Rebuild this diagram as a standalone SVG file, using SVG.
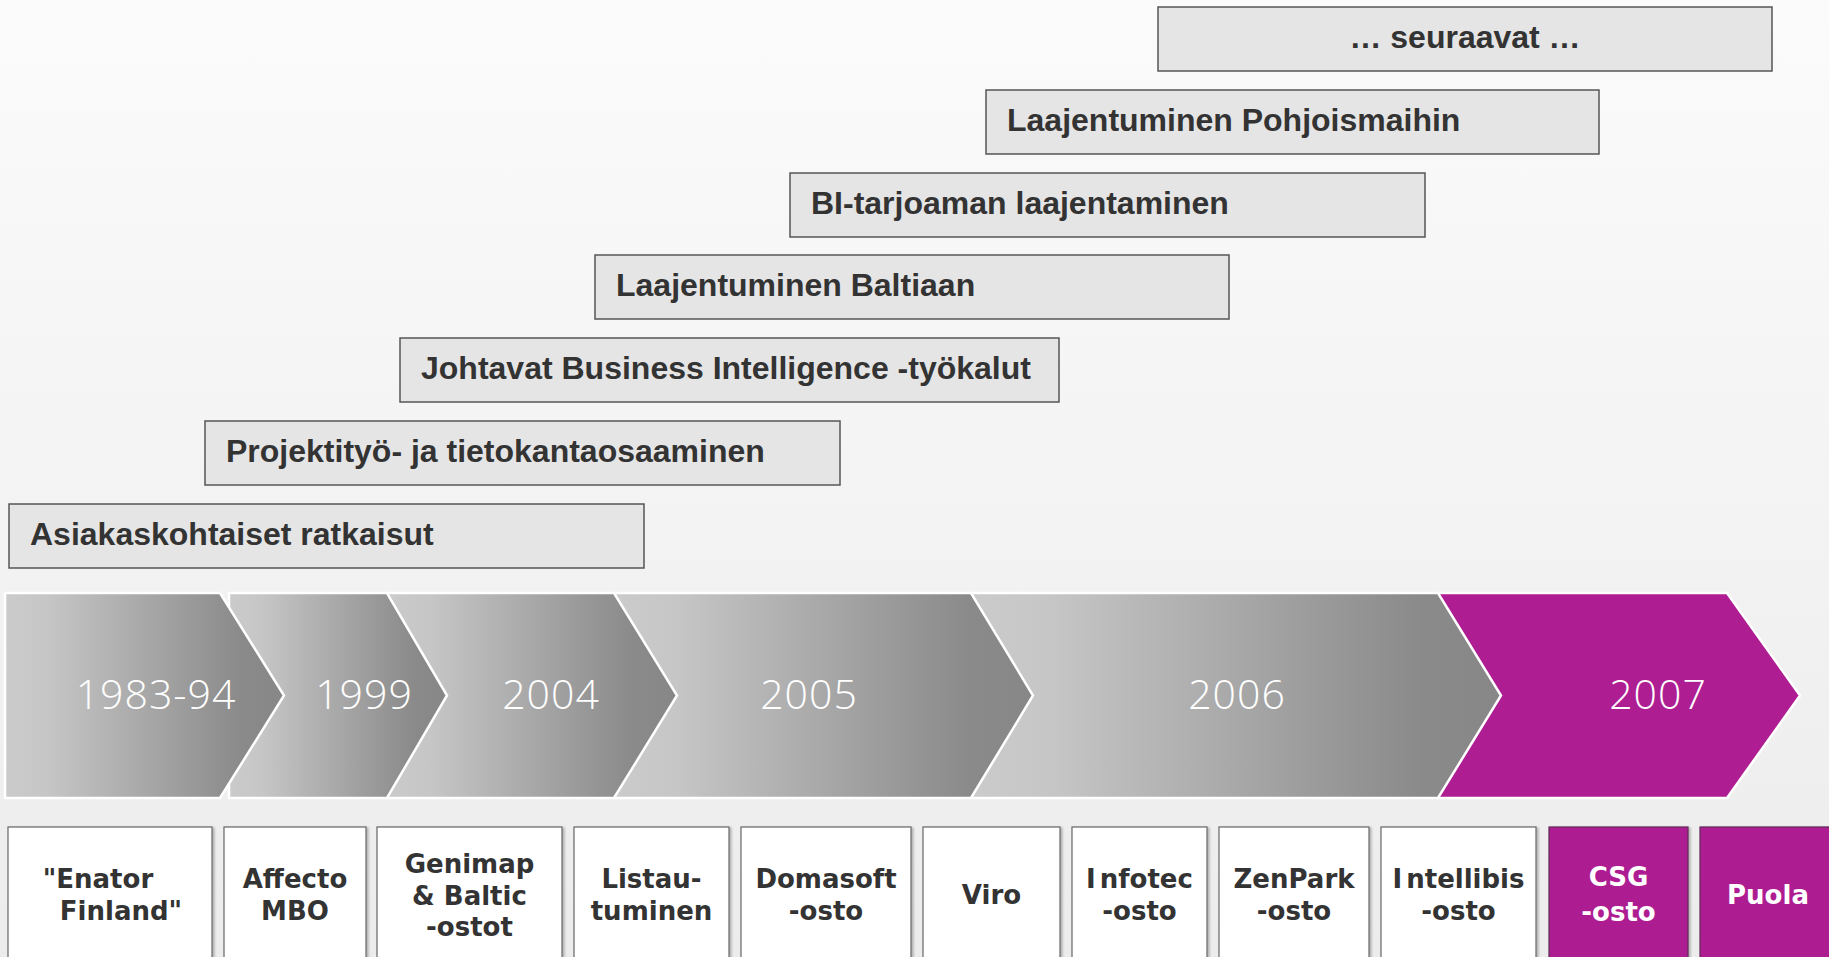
<svg xmlns="http://www.w3.org/2000/svg" width="1829" height="957" viewBox="0 0 1829 957">
<defs>
<linearGradient id="bg" x1="0" y1="0" x2="0" y2="1">
<stop offset="0" stop-color="#fbfbfb"/>
<stop offset="1" stop-color="#ececec"/>
</linearGradient>
<linearGradient id="chev" x1="0" y1="0" x2="1" y2="0">
<stop offset="0" stop-color="#cbcbcb"/>
<stop offset="0.15" stop-color="#c6c6c6"/>
<stop offset="0.85" stop-color="#8a8a8a"/>
<stop offset="1" stop-color="#878787"/>
</linearGradient>
<filter id="sh" x="-5%" y="-5%" width="115%" height="115%">
<feDropShadow dx="2" dy="1" stdDeviation="1.2" flood-color="#000" flood-opacity="0.25"/>
</filter>
</defs>
<style>
.bar{fill:#e5e5e5;stroke:#555;stroke-width:1.5}
.bt{font-family:"Liberation Sans",Arial,sans-serif;font-weight:bold;font-size:32px;fill:#333}
.ch{fill:url(#chev);stroke:#fff;stroke-width:2.5;stroke-linejoin:miter}
.chm{fill:#ae1e92;stroke:#fff;stroke-width:2.5}
.yr{font-family:"Open Sans","DejaVu Sans",sans-serif;font-weight:300;font-size:41px;fill:#fff;text-anchor:middle;letter-spacing:1px}
.box{fill:#fff;stroke:#666;stroke-width:1.2;filter:url(#sh)}
.boxm{fill:#ae1e92;stroke:#5e2a56;stroke-width:1.2;filter:url(#sh)}
.lt{font-family:"DejaVu Sans",Verdana,sans-serif;font-weight:bold;font-size:26px;fill:#333;text-anchor:middle}
.lw{font-family:"DejaVu Sans",Verdana,sans-serif;font-weight:bold;font-size:26px;fill:#fff;text-anchor:middle}
</style>
<rect x="0" y="0" width="1829" height="957" fill="url(#bg)"/>

<g id="bar-seuraavat"><rect class="bar" x="1158" y="7" width="614" height="64"/><text class="bt" x="1465" y="48" text-anchor="middle">… seuraavat …</text></g>
<g id="bar-pohjoismaat"><rect class="bar" x="986" y="90" width="613" height="64"/><text class="bt" x="1007" y="131">Laajentuminen Pohjoismaihin</text></g>
<g id="bar-bi-tarjoama"><rect class="bar" x="790" y="173" width="635" height="64"/><text class="bt" x="811" y="214">BI-tarjoaman laajentaminen</text></g>
<g id="bar-baltia"><rect class="bar" x="595" y="255" width="634" height="64"/><text class="bt" x="616" y="296">Laajentuminen Baltiaan</text></g>
<g id="bar-bi-tyokalut"><rect class="bar" x="400" y="338" width="659" height="64"/><text class="bt" x="421" y="379">Johtavat Business Intelligence -työkalut</text></g>
<g id="bar-projektityo"><rect class="bar" x="205" y="421" width="635" height="64"/><text class="bt" x="226" y="462">Projektityö- ja tietokantaosaaminen</text></g>
<g id="bar-asiakas"><rect class="bar" x="9" y="504" width="635" height="64"/><text class="bt" x="30" y="545">Asiakaskohtaiset ratkaisut</text></g>

<g id="chev-2007"><polygon class="chm" points="1438,593 1727,593 1800,695.5 1727,798 1438,798"/><text class="yr" x="1658" y="709">2007</text></g>
<g id="chev-2006"><polygon class="ch" points="971,593 1438,593 1501,695.5 1438,798 971,798"/><text class="yr" x="1237" y="709">2006</text></g>
<g id="chev-2005"><polygon class="ch" points="614,593 971,593 1033,695.5 971,798 614,798"/><text class="yr" x="809" y="709">2005</text></g>
<g id="chev-2004"><polygon class="ch" points="387,593 614,593 677,695.5 614,798 387,798"/><text class="yr" x="551" y="709">2004</text></g>
<g id="chev-1999"><polygon class="ch" points="229,593 387,593 447,695.5 387,798 229,798"/><text class="yr" x="364" y="709">1999</text></g>
<g id="chev-1983"><polygon class="ch" points="5,593 220,593 284,695.5 220,798 5,798"/><text class="yr" x="156" y="709">1983-94</text></g>

<g id="ev-enator"><rect class="box" x="8" y="827" width="204" height="140"/><text class="lt" x="98" y="888">"Enator</text><text class="lt" x="121" y="920">Finland"</text></g>
<g id="ev-affecto"><rect class="box" x="224" y="827" width="142" height="140"/><text class="lt" x="295" y="888">Affecto</text><text class="lt" x="295" y="920">MBO</text></g>
<g id="ev-genimap"><rect class="box" x="377" y="827" width="185" height="140"/><text class="lt" x="469.5" y="873">Genimap</text><text class="lt" x="469.5" y="905">&amp; Baltic</text><text class="lt" x="469.5" y="936">-ostot</text></g>
<g id="ev-listautuminen"><rect class="box" x="574" y="827" width="155" height="140"/><text class="lt" x="651.5" y="888">Listau-</text><text class="lt" x="651.5" y="920">tuminen</text></g>
<g id="ev-domasoft"><rect class="box" x="741" y="827" width="170" height="140"/><text class="lt" x="826" y="888">Domasoft</text><text class="lt" x="826" y="920">-osto</text></g>
<g id="ev-viro"><rect class="box" x="923" y="827" width="137" height="140"/><text class="lt" x="991.5" y="904">Viro</text></g>
<g id="ev-infotec"><rect class="box" x="1072" y="827" width="135" height="140"/><text class="lt" x="1139.5" y="888">I<tspan dx="4">nfotec</tspan></text><text class="lt" x="1139.5" y="920">-osto</text></g>
<g id="ev-zenpark"><rect class="box" x="1219" y="827" width="150" height="140"/><text class="lt" x="1294" y="888">ZenPark</text><text class="lt" x="1294" y="920">-osto</text></g>
<g id="ev-intellibis"><rect class="box" x="1381" y="827" width="155" height="140"/><text class="lt" x="1458.5" y="888">I<tspan dx="4">ntellibis</tspan></text><text class="lt" x="1458.5" y="920">-osto</text></g>
<g id="ev-csg"><rect class="boxm" x="1549" y="827" width="139" height="140"/><text class="lw" x="1618.5" y="886">CSG</text><text class="lw" x="1618.5" y="921">-osto</text></g>
<g id="ev-puola"><rect class="boxm" x="1700" y="827" width="150" height="140"/><text class="lw" x="1768" y="904">Puola</text></g>
<g id="connectors"/>
</svg>
